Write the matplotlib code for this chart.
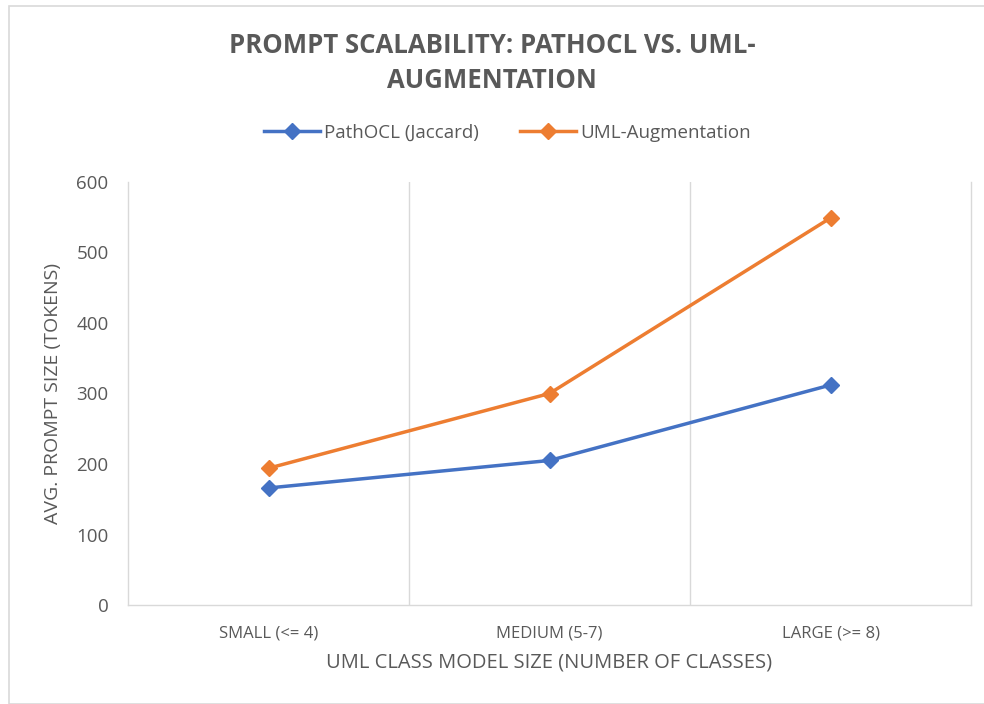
import matplotlib
matplotlib.use("Agg")
import matplotlib.pyplot as plt
from matplotlib.patches import Rectangle

categories = ["SMALL (<= 4)", "MEDIUM (5-7)", "LARGE (>= 8)"]
pathocl = [166, 205, 312]
uml_aug = [194, 300, 549]
series_names = ["PathOCL (Jaccard)", "UML-Augmentation"]
yticks = [0, 100, 200, 300, 400, 500, 600]

TXT = "#595959"
GRID = "#D9D9D9"
BLUE = "#4472C4"
ORANGE = "#ED7D31"

plt.rcParams['font.family'] = ['Open Sans', 'DejaVu Sans']

fig = plt.figure(figsize=(9.84, 7.04), dpi=100)
fig.patches.append(Rectangle((9/984, 0), 1, (704-6)/704, transform=fig.transFigure,
                             fill=False, edgecolor=GRID, linewidth=1.2))

ax = fig.add_axes([128/984, 99/704, 843/984, 423/704])
x = list(range(len(categories)))
ax.plot(x, pathocl, color=BLUE, linewidth=2.5, marker='D', markersize=8.5, label=series_names[0], zorder=3)
ax.plot(x, uml_aug, color=ORANGE, linewidth=2.5, marker='D', markersize=8.5, label=series_names[1], zorder=3)

ax.set_xlim(-0.5, len(categories) - 0.5)
ax.set_ylim(0, 600)
ax.set_yticks(yticks)
ax.set_xticks(x)
ax.set_xticklabels(categories, fontsize=12, color=TXT)
ax.tick_params(axis='y', labelsize=13.5, colors=TXT, length=0, pad=14)
ax.tick_params(axis='x', length=0, pad=15)

for b in [0.5, 1.5]:
    ax.axvline(b, color=GRID, linewidth=1, zorder=1)
ax.spines['top'].set_visible(False)
for s in ['left', 'right', 'bottom']:
    ax.spines[s].set_color(GRID)
    ax.spines[s].set_linewidth(1)

ax.set_xlabel("UML CLASS MODEL SIZE (NUMBER OF CLASSES)", fontsize=14.5, color=TXT, labelpad=8)
ax.set_ylabel("AVG. PROMPT SIZE (TOKENS)", fontsize=14, color=TXT, labelpad=10)

fig.text(0.5, 1 - 63/704, "PROMPT SCALABILITY: PATHOCL VS. UML-\nAUGMENTATION",
         ha='center', va='center', fontsize=18.5, fontweight='bold', color=TXT, linespacing=1.4)

leg = fig.legend(loc='center', bbox_to_anchor=(507/984, 1 - 133/704), ncol=2, frameon=False,
                 fontsize=13.5, labelcolor=TXT, handlelength=3.0, columnspacing=2.2, handletextpad=0.2)

fig.savefig("out.png", dpi=100)
